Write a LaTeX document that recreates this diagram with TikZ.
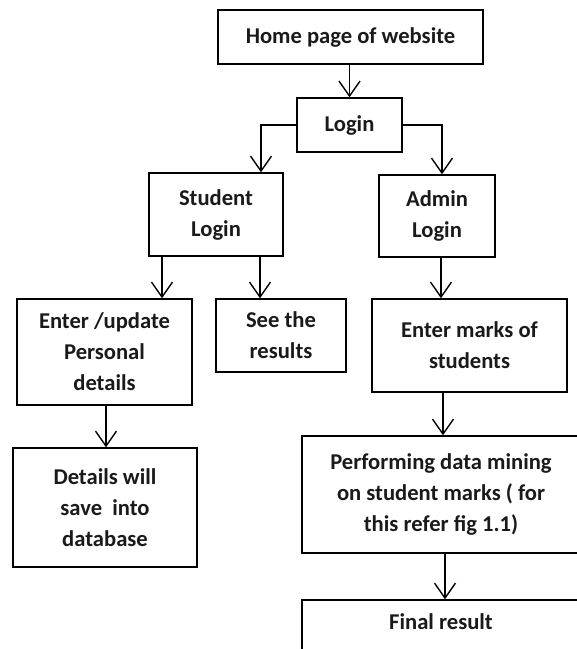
\documentclass[tikz,border=0pt]{standalone}
\usepackage{fontspec}
\setmainfont{Carlito}
\usetikzlibrary{arrows.meta}
\definecolor{ink}{HTML}{1A1A1A}
\tikzset{
  box/.style={draw=black, line width=1.4pt, inner sep=0pt, align=center,
    font=\fontsize{22.6}{31}\selectfont\bfseries, text=ink},
  conn/.style={draw=black, line width=1.4pt, -{Straight Barb[length=15pt,width=21pt,line width=1.4pt]}}
}
\begin{document}
\begin{tikzpicture}[x=1pt,y=-1pt]
\useasboundingbox (0,0) rectangle (577,649);
\clip (0,0) rectangle (577,649);
\fill[white] (0,0) rectangle (577,649);
\node[box, minimum width=265pt, minimum height=54pt] (home) at (350.5,37) {Home page of website};
\node[box, minimum width=105pt, minimum height=54pt] (login) at (349.5,125) {Login};
\node[box, minimum width=134pt, minimum height=83pt] (student) at (216,214.5) {Student\\Login};
\node[box, minimum width=116pt, minimum height=82pt] (admin) at (437,216) {Admin\\Login};
\node[box, minimum width=175pt, minimum height=106pt] (enterupd) at (104.5,352) {Enter /update\\Personal\\details};
\node[box, minimum width=130pt, minimum height=73pt] (see) at (281,335.5) {See the\\results};
\node[box, minimum width=195pt, minimum height=93pt] (marks) at (469.5,345.5) {Enter marks of\\students};
\node[box, minimum width=184pt, minimum height=119pt] (details) at (105,507.5) {Details will\\save\ \ into\\database};
\node[box, minimum width=278pt, minimum height=117pt] (perform) at (441,494.5) {Performing data mining\\on student marks ( for\\this refer fig 1.1)};
\node[box, minimum width=278pt, minimum height=80pt, text height=16pt, text depth=38pt] (final) at (441,640) {Final result};

\coordinate (s1) at ([xshift=-54pt]student.south);
\coordinate (s2) at ([xshift=44pt]student.south);
\coordinate (a1) at ([xshift=4pt]admin.south);
\coordinate (e1) at ([xshift=1.5pt]enterupd.south);
\coordinate (m1) at ([xshift=2pt]perform.north);
\coordinate (p1) at ([xshift=4pt]perform.south);

\draw[conn] (login.north |- home.south) -- (login.north);
\draw[conn] (login.west) -| ([xshift=45pt]student.north);
\draw[conn] (login.east) -| ([xshift=5pt]admin.north);
\draw[conn] (s1) -- (s1 |- enterupd.north);
\draw[conn] (s2) -- (s2 |- see.north);
\draw[conn] (a1) -- (a1 |- marks.north);
\draw[conn] (e1) -- (e1 |- details.north);
\draw[conn] (m1 |- marks.south) -- (m1);
\draw[conn] (p1) -- (p1 |- final.north);
\end{tikzpicture}
\end{document}
